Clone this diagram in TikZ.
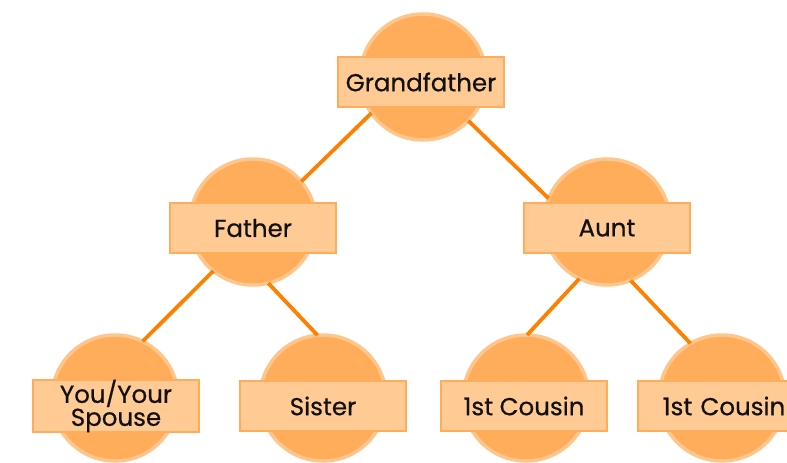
\documentclass[tikz,border=0pt]{standalone}
\usepackage{fontspec}
\setmainfont{Poppins}
\newfontfamily\lblfont{Poppins}[FakeBold=0.6]
\definecolor{circfill}{HTML}{FFAD5B}
\definecolor{circedge}{HTML}{FFC68C}
\definecolor{boxfill}{HTML}{FFCA94}
\definecolor{boxedge}{HTML}{FFAD5B}
\definecolor{linkcol}{HTML}{FF8000}
\definecolor{txt}{HTML}{111111}
\begin{document}
\begin{tikzpicture}[x=1pt,y=-1pt,
  circ/.style={circle,fill=circfill,draw=circedge,line width=3.5pt,minimum size=126pt,inner sep=0pt,outer sep=0pt},
  lbl/.style={rectangle,fill=boxfill,draw=boxedge,line width=1.8pt,minimum width=166pt,minimum height=50pt,inner sep=0pt,align=center,
    font=\lblfont\fontsize{24.5}{26}\selectfont,text=txt},
  link/.style={draw=linkcol,line width=3.8pt}]
\useasboundingbox (0,0) rectangle (787,463);
\clip (0,0) rectangle (787,463);
% circles
\node[circ] (gf) at (423,77) {};
\node[circ] (fa) at (253,222) {};
\node[circ] (au) at (607,222) {};
\node[circ] (yo) at (115,398) {};
\node[circ] (si) at (323,398) {};
\node[circ] (c1) at (526,398) {};
\node[circ] (c2) at (722,398) {};
% connectors
\draw[link] (gf.215) -- (fa.40);
\draw[link] (gf.316) -- (au.158);
\draw[link] (fa.231) -- (yo.64);
\draw[link] (fa.284) -- (si.95);
\draw[link] (au.244) -- (c1.89);
\draw[link] (au.292) -- (c2.120);
% labels
\node[lbl] (gfl) at (421,82) {Grandfather};
\node[lbl] (fal) at (253,228) {Father};
\node[lbl] (aul) at (607,228) {Aunt};
\node[lbl] (yol) at (116,406) {You/Your\\[-3pt]Spouse};
\node[lbl] (sil) at (323,406) {Sister};
\node[lbl] (c1l) at (524,406) {1st Cousin};
\node[lbl,text width=166pt] (c2l) at (721,406) {\hspace*{6pt}1st Cousin};
\end{tikzpicture}
\end{document}
